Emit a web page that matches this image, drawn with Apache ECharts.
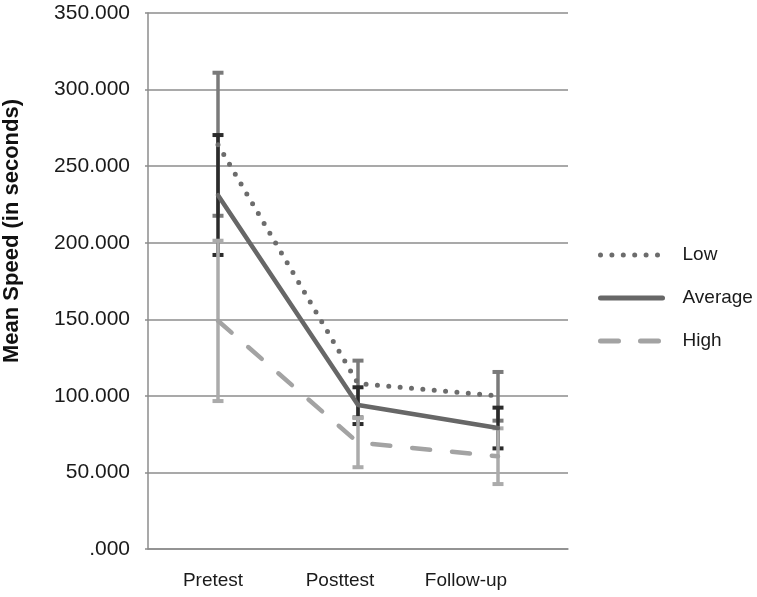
<!DOCTYPE html>
<html>
<head>
<meta charset="utf-8">
<script src="https://cdn.jsdelivr.net/npm/echarts@6/dist/echarts.min.js"></script>
<style>html,body{margin:0;padding:0;background:#fff}#c{width:757px;height:597px}</style>
</head>
<body>
<div id="c"></div>
<script>
var categories = ['Pretest', 'Posttest', 'Follow-up'];
var yTicks = [0, 50, 100, 150, 200, 250, 300, 350];
var lowMean = [264, 108, 100];
var avgMean = [231, 94, 79];
var highMean = [149, 69.5, 60.5];
var lowErrLo = [217.6, 86, 83.8];
var lowErrHi = [311, 123, 115.6];
var avgErrLo = [192, 81.6, 65.7];
var avgErrHi = [270.3, 105.6, 92.3];
var highErrLo = [96.6, 53.4, 42.4];
var highErrHi = [201.3, 85.5, 78.8];

var REG = "'Liberation Sans', Arial, sans-serif";

function errData(lo, hi) {
  return lo.map(function (v, i) { return [i, v, hi[i]]; });
}
function errSeries(name, lo, hi, color) {
  return {
    type: 'custom', name: name, z: 1, silent: true,
    data: errData(lo, hi),
    renderItem: function (params, api) {
      var x = api.value(0);
      var pLo = api.coord([x, api.value(1)]);
      var pHi = api.coord([x, api.value(2)]);
      var cw = 5.5;
      var st = { stroke: color, lineWidth: 3.5 };
      return {
        type: 'group',
        children: [
          { type: 'line', shape: { x1: pLo[0], y1: pLo[1], x2: pHi[0], y2: pHi[1] }, style: st },
          { type: 'line', shape: { x1: pLo[0] - cw, y1: pLo[1], x2: pLo[0] + cw, y2: pLo[1] }, style: { stroke: color, lineWidth: 4 } },
          { type: 'line', shape: { x1: pHi[0] - cw, y1: pHi[1], x2: pHi[0] + cw, y2: pHi[1] }, style: { stroke: color, lineWidth: 4 } }
        ]
      };
    }
  };
}

var shifts = [10, 36, 64];
var rich = {};
shifts.forEach(function (s, i) {
  rich['p' + i] = { fontFamily: REG, fontSize: 19, color: '#1a1a1a', padding: [0, s, 0, 0] };
});

var chart = echarts.init(document.getElementById('c'));
chart.setOption({
  animation: false,
  backgroundColor: '#fff',
  grid: { left: 148, right: 189, top: 13, bottom: 48, containLabel: false },
  xAxis: {
    type: 'category',
    data: categories,
    boundaryGap: true,
    axisLine: { show: true, lineStyle: { color: '#8c8c8c', width: 1.5 } },
    axisTick: { show: false },
    axisLabel: {
      margin: 22,
      formatter: function (v, i) { return '{p' + i + '|' + v + '}'; },
      rich: rich
    }
  },
  yAxis: {
    type: 'value',
    min: yTicks[0], max: yTicks[yTicks.length - 1], interval: 50,
    axisLine: { show: true, lineStyle: { color: '#8c8c8c', width: 1.5 } },
    axisTick: { show: true, length: 3, lineStyle: { color: '#8c8c8c', width: 1.5 } },
    splitLine: { show: true, lineStyle: { color: '#8c8c8c', width: 1.5 } },
    axisLabel: {
      margin: 18,
      fontFamily: REG, fontSize: 21, color: '#1a1a1a',
      formatter: function (v) { return v === 0 ? '.000' : v.toFixed(3); }
    }
  },
  legend: {
    orient: 'vertical',
    left: 593, top: 238,
    itemWidth: 62, itemHeight: 14, itemGap: 19,
    data: ['Low', 'Average', 'High'],
    textStyle: { fontFamily: REG, fontSize: 19, color: '#1a1a1a', lineHeight: 24, padding: [0, 0, 0, 15] },
    itemStyle: { opacity: 0 },
    lineStyle: { width: 5 }
  },
  graphic: [{
    type: 'text',
    x: 12, y: 231, rotation: Math.PI / 2,
    style: {
      text: 'Mean Speed (in seconds)',
      fontFamily: REG, fontWeight: 'bold', fontSize: 22, fill: '#111',
      align: 'center', verticalAlign: 'middle'
    }
  }],
  series: [
    errSeries('LowErr', lowErrLo, lowErrHi, '#7a7a7a'),
    errSeries('AvgErr', avgErrLo, avgErrHi, '#2b2b2b'),
    errSeries('HighErr', highErrLo, highErrHi, '#ababab'),
    {
      name: 'Low', type: 'line', data: lowMean, symbol: 'none', z: 3,
      itemStyle: { color: '#6c6c6c' },
      lineStyle: { color: '#6c6c6c', width: 5, type: [0, 11.4], cap: 'round' }
    },
    {
      name: 'Average', type: 'line', data: avgMean, symbol: 'none', z: 3,
      itemStyle: { color: '#676767' },
      lineStyle: { color: '#676767', width: 4.5, type: 'solid', cap: 'round' }
    },
    {
      name: 'High', type: 'line', data: highMean, symbol: 'none', z: 3,
      itemStyle: { color: '#a3a3a3' },
      lineStyle: { color: '#a3a3a3', width: 4.5, type: [18, 22], cap: 'round' }
    }
  ]
});
</script>
</body>
</html>
